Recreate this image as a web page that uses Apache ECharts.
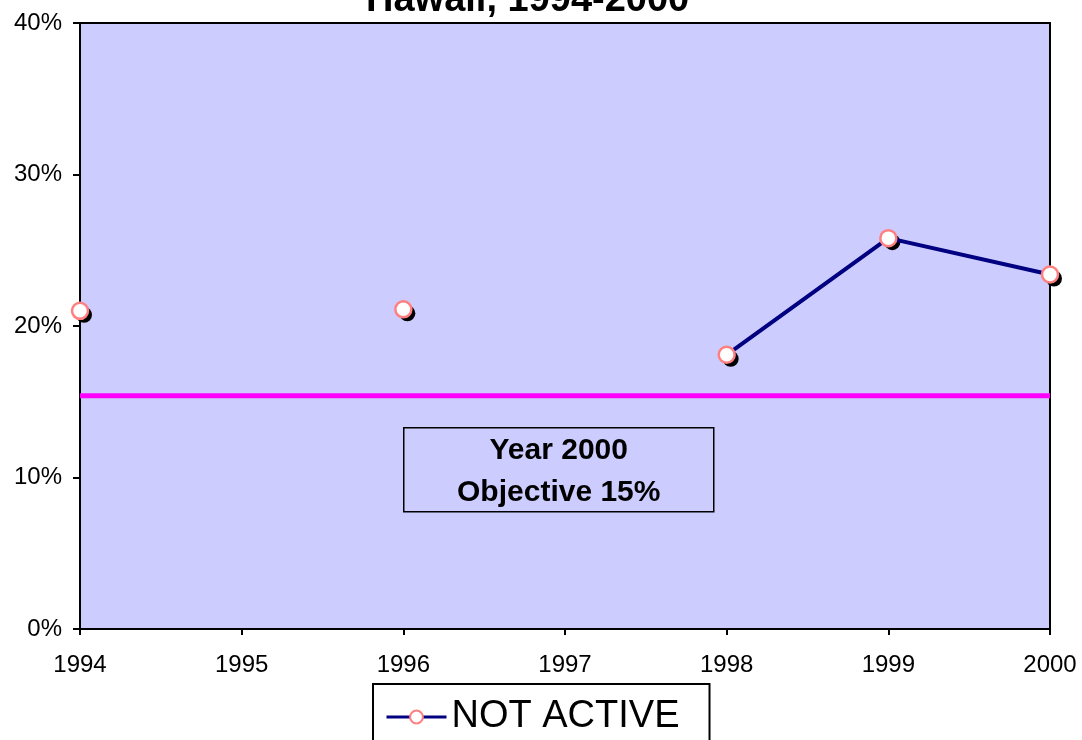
<!DOCTYPE html>
<html>
<head>
<meta charset="utf-8">
<script src="https://cdn.jsdelivr.net/npm/echarts@6/dist/echarts.min.js"></script>
<style>
  html, body { margin: 0; padding: 0; background: #fff; }
  #chart { width: 1082px; height: 740px; }
</style>
</head>
<body>
<div id="chart"></div>
<script>
// data
var years = ['1994', '1995', '1996', '1997', '1998', '1999', '2000']
var notActive = [21.0, null, 21.1, null, 18.1, 25.8, 23.4]
var objective = [15.4, 15.4, 15.4, 15.4, 15.4, 15.4, 15.4]
var yTicks = [0, 10, 20, 30, 40]

var myChart = echarts.init(document.getElementById('chart'))

var font = 'Arial, Liberation Sans'

var option = {
  animation: false,
  title: {
    text: 'Hawaii, 1994-2000',
    left: 366,
    top: -18,
    padding: 0,
    textStyle: {
      fontFamily: font,
      fontWeight: 'bold',
      fontSize: 38,
      color: '#000'
    }
  },
  grid: {
    left: 80,
    right: 32,
    top: 23,
    bottom: 111,
    show: true,
    backgroundColor: '#ccccff',
    borderColor: '#000',
    borderWidth: 2
  },
  legend: {
    data: ['NOT ACTIVE'],
    left: 373,
    top: 684,
    itemWidth: 60,
    itemHeight: 16,
    itemGap: 6,
    padding: [14, 30, 40, 12],
    borderColor: '#000',
    borderWidth: 2,
    lineStyle: { width: 3 },
    itemStyle: { borderWidth: 2 },
    textStyle: {
      fontFamily: font,
      fontSize: 38,
      color: '#000'
    }
  },
  xAxis: {
    type: 'category',
    data: years,
    boundaryGap: false,
    axisLine: { lineStyle: { color: '#000', width: 2 } },
    axisTick: { show: true, length: 6, lineStyle: { color: '#000', width: 2 } },
    axisLabel: {
      fontFamily: font,
      fontSize: 24,
      color: '#000',
      margin: 24
    },
    splitLine: { show: false }
  },
  yAxis: {
    type: 'value',
    min: yTicks[0],
    max: yTicks[yTicks.length - 1],
    interval: 10,
    axisLine: { show: true, lineStyle: { color: '#000', width: 2 } },
    axisTick: { show: true, length: 7, lineStyle: { color: '#000', width: 2 } },
    axisLabel: {
      formatter: '{value}%',
      fontFamily: font,
      fontSize: 24,
      color: '#000',
      margin: 18
    },
    splitLine: { show: false }
  },
  graphic: [{
    type: 'group',
    left: 403,
    top: 427,
    children: [{
      type: 'rect',
      shape: { x: 0, y: 0, width: 310, height: 84 },
      style: { fill: 'transparent', stroke: '#000', lineWidth: 1.5 }
    }, {
      type: 'text',
      x: 155,
      y: 44,
      style: {
        text: 'Year 2000\nObjective 15%',
        align: 'center',
        verticalAlign: 'middle',
        fontFamily: font,
        fontWeight: 'bold',
        fontSize: 30,
        lineHeight: 42,
        fill: '#000'
      }
    }]
  }],
  series: [{
    name: 'Objective',
    type: 'line',
    data: objective,
    symbol: 'none',
    silent: true,
    lineStyle: { color: '#ff00ff', width: 5 },
    z: 2
  }, {
    // marker drop shadow
    name: 'shadow',
    type: 'line',
    data: notActive,
    connectNulls: false,
    symbol: 'circle',
    symbolSize: 16,
    symbolOffset: [4, 4],
    showAllSymbol: true,
    lineStyle: { width: 0, opacity: 0 },
    itemStyle: { color: '#000', borderWidth: 0 },
    silent: true,
    z: 3
  }, {
    name: 'NOT ACTIVE',
    type: 'line',
    data: notActive,
    connectNulls: false,
    symbol: 'circle',
    symbolSize: 16,
    showAllSymbol: true,
    lineStyle: { color: '#000080', width: 4 },
    itemStyle: {
      color: '#fff',
      borderColor: '#ff8080',
      borderWidth: 2.5
    },
    z: 4
  }]
}

myChart.setOption(option)
</script>
</body>
</html>
